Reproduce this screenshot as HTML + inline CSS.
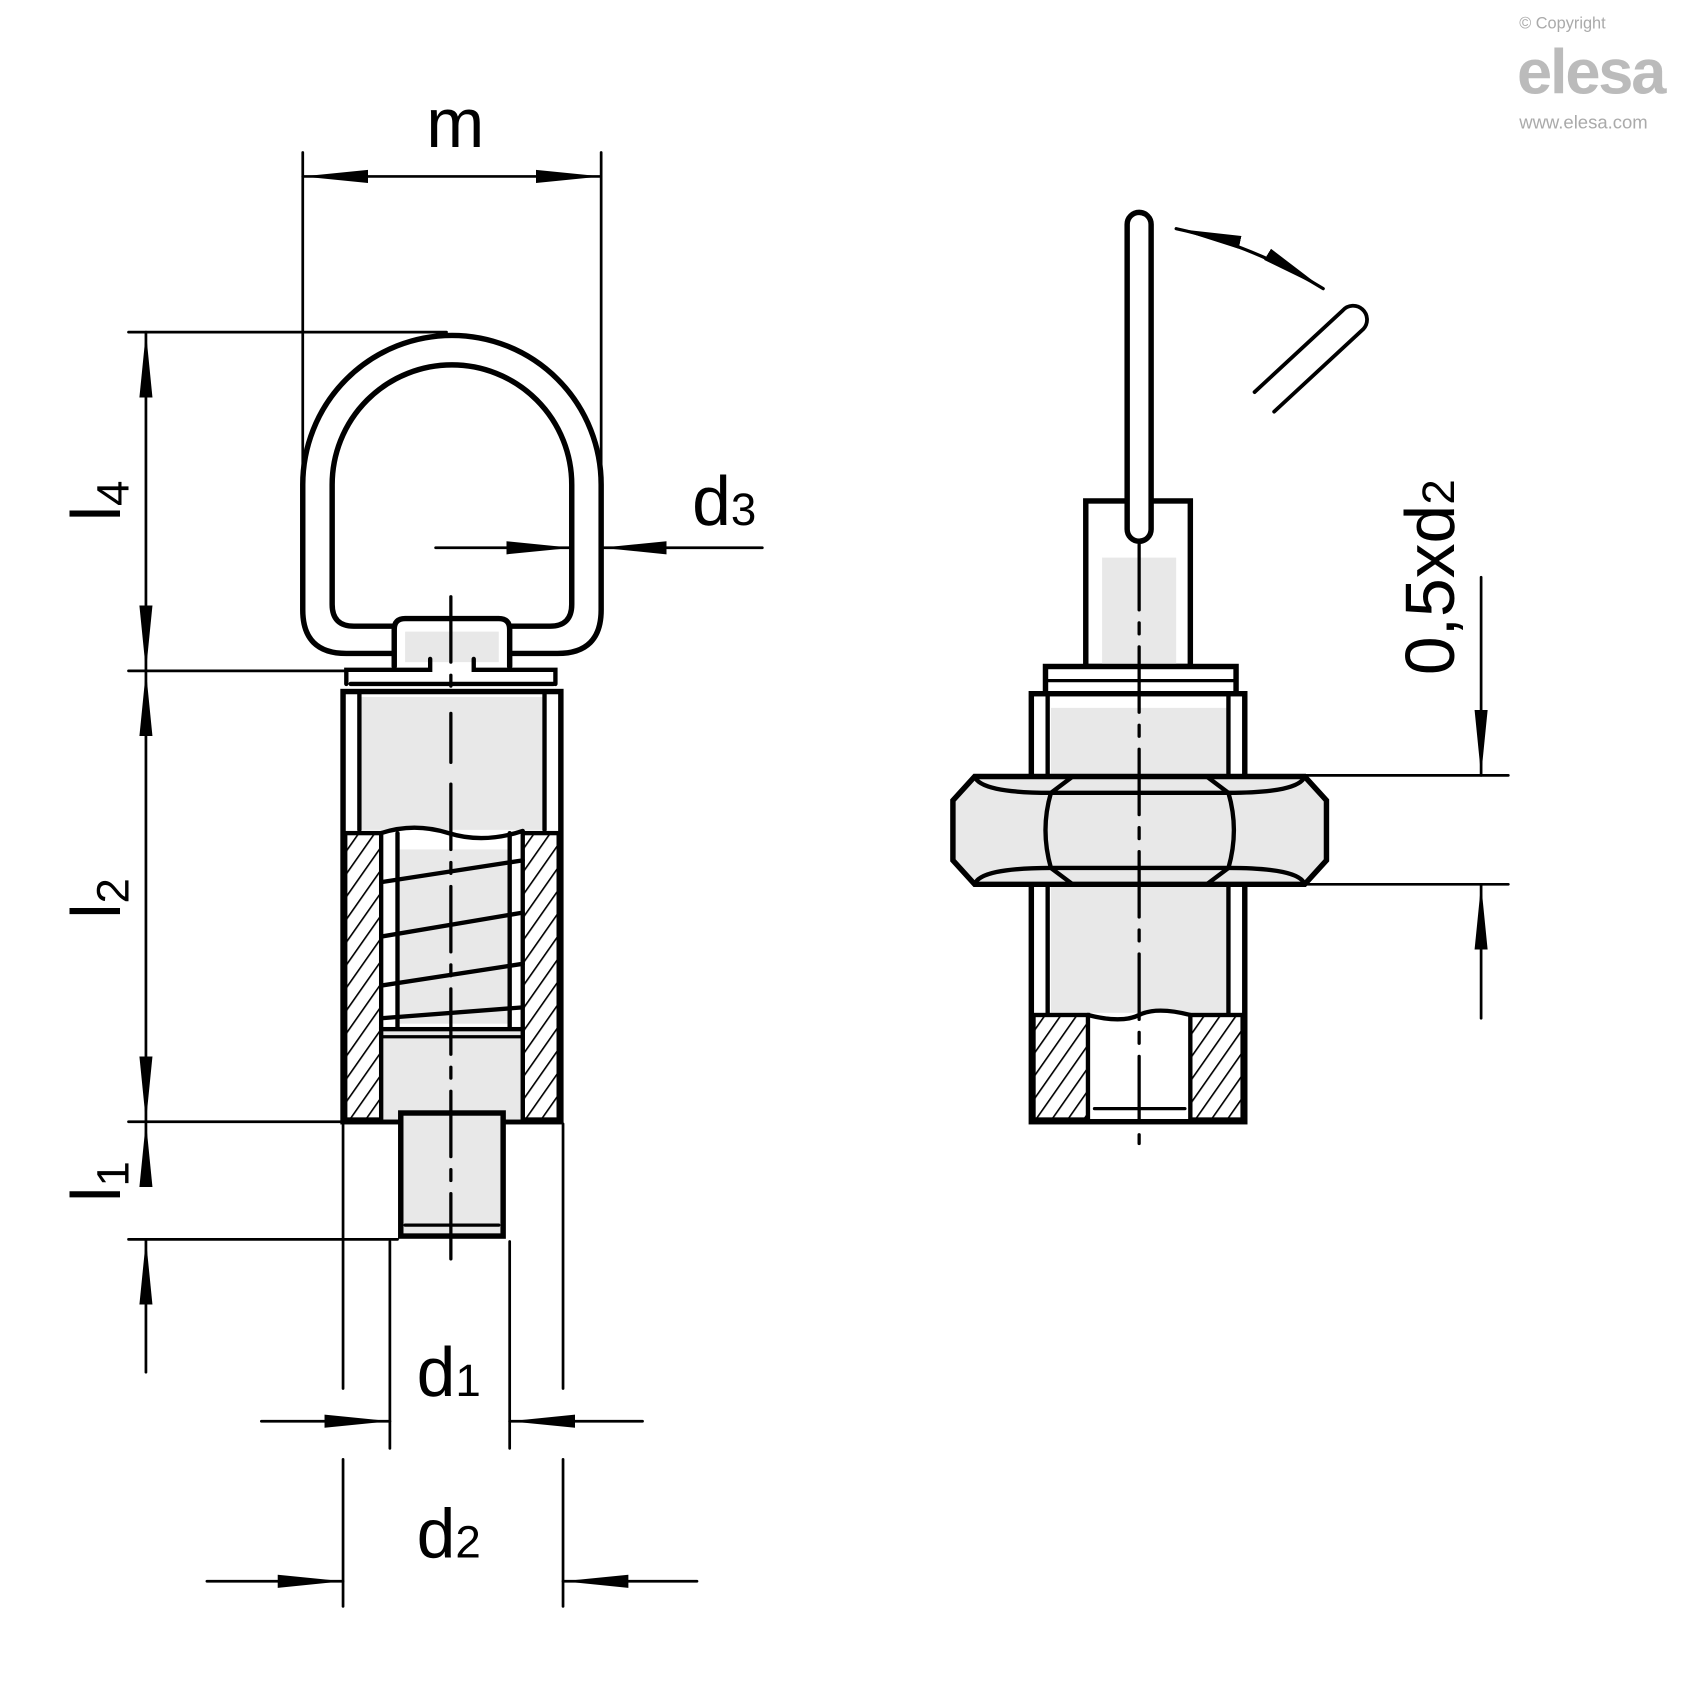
<!DOCTYPE html>
<html><head><meta charset="utf-8"><style>html,body{margin:0;padding:0;background:#fff}svg{display:block}</style></head><body>
<svg width="1700" height="1700" viewBox="0 0 1561 1561" xmlns="http://www.w3.org/2000/svg">
<defs>
<marker id="b" viewBox="0 0 60 14" refX="60" refY="7" markerWidth="60" markerHeight="14" markerUnits="userSpaceOnUse" orient="auto-start-reverse"><path d="M0,1 L60,7 L0,13 Z" fill="#000"/></marker>
<pattern id="h" width="12" height="12" patternUnits="userSpaceOnUse" patternTransform="rotate(35)"><rect width="12" height="12" fill="#fff"/><line x1="0" y1="0" x2="0" y2="12" stroke="#000" stroke-width="3"/></pattern>
</defs>
<text x="1395" y="26" font-family="Liberation Sans, sans-serif" font-size="15" fill="#aaa">© Copyright</text>
<text x="1393" y="86" font-family="Liberation Sans, sans-serif" font-size="58" font-weight="bold" fill="#bbb" letter-spacing="-2">elesa</text>
<text x="1395" y="118" font-family="Liberation Sans, sans-serif" font-size="17" fill="#aaa">www.elesa.com</text>

<g stroke="#000" fill="none" stroke-linecap="round">
<!-- ring -->
<path d="M362,600 L318,600 Q278,600 278,560 L278,445 A137,137 0 0 1 552,445 L552,560 Q552,600 512,600 L470,600" stroke-width="5"/>
<path d="M362,575 L325,575 Q305,575 305,555 L305,445 A110,110 0 0 1 525,445 L525,555 Q525,575 505,575 L470,575" stroke-width="5"/>
<!-- boss -->
<path d="M362,612 L362,578 Q362,568 372,568 L458,568 Q468,568 468,578 L468,612" fill="#fff" stroke-width="5"/>
<rect x="372" y="580" width="86" height="28" fill="#e8e8e8" stroke="none"/>
<path d="M318,628 L318,615 L395,615 L395,605 M435,605 L435,615 L510,615 L510,628" stroke-width="4"/>
<line x1="322" y1="628" x2="508" y2="628" stroke-width="4"/>
<!-- body -->
<rect x="315" y="635" width="200" height="395" fill="#fff" stroke-width="5"/>
<rect x="330" y="640" width="170" height="122" fill="#e8e8e8" stroke="none"/>
<line x1="330" y1="635" x2="330" y2="762" stroke-width="4"/>
<line x1="500" y1="635" x2="500" y2="762" stroke-width="4"/>
<rect x="317" y="765" width="33" height="263" fill="url(#h)" stroke-width="4"/>
<rect x="480" y="765" width="33" height="263" fill="url(#h)" stroke-width="4"/>
<path d="M350,765 Q380,755 412,765 T480,763" stroke-width="4"/>
<rect x="365" y="780" width="105" height="160" fill="#e8e8e8" stroke="none"/>
<line x1="365" y1="765" x2="365" y2="945" stroke-width="4"/>
<line x1="468" y1="765" x2="468" y2="945" stroke-width="4"/>
<path d="M350,810 L480,790 M350,860 L480,838 M350,905 L480,885 M350,935 L480,925" stroke-width="4"/>
<rect x="350" y="945" width="130" height="85" fill="#e8e8e8" stroke-width="4"/>
<line x1="350" y1="952" x2="480" y2="952" stroke-width="3"/>
<rect x="368" y="1022" width="94" height="113" fill="#e8e8e8" stroke-width="5"/>
<line x1="372" y1="1125" x2="458" y2="1125" stroke-width="3"/>
<path d="M414,548 L414,640 M414,655 L414,700 M414,720 L414,1160" stroke-width="3" stroke-dasharray="60 12 10 12"/>

<!-- dims left -->
<line x1="278" y1="140" x2="278" y2="430" stroke-width="2.5"/>
<line x1="552" y1="140" x2="552" y2="430" stroke-width="2.5"/>
<line x1="278" y1="162" x2="552" y2="162" stroke-width="2.5" marker-start="url(#b)" marker-end="url(#b)"/>
<line x1="118" y1="305" x2="410" y2="305" stroke-width="2.5"/>
<line x1="118" y1="616" x2="318" y2="616" stroke-width="2.5"/>
<line x1="118" y1="1030" x2="315" y2="1030" stroke-width="2.5"/>
<line x1="118" y1="1138" x2="365" y2="1138" stroke-width="2.5"/>
<line x1="134" y1="305" x2="134" y2="616" stroke-width="2.5" marker-start="url(#b)" marker-end="url(#b)"/>
<line x1="134" y1="616" x2="134" y2="1030" stroke-width="2.5" marker-start="url(#b)" marker-end="url(#b)"/>
<line x1="134" y1="1030" x2="134" y2="1078" stroke-width="2.5" marker-start="url(#b)"/>
<line x1="134" y1="1138" x2="134" y2="1260" stroke-width="2.5" marker-start="url(#b)"/>
<line x1="400" y1="503" x2="525" y2="503" stroke-width="2.5" marker-end="url(#b)"/>
<line x1="552" y1="503" x2="700" y2="503" stroke-width="2.5" marker-start="url(#b)"/>
<line x1="358" y1="1140" x2="358" y2="1330" stroke-width="2.5"/>
<line x1="468" y1="1140" x2="468" y2="1330" stroke-width="2.5"/>
<line x1="240" y1="1305" x2="358" y2="1305" stroke-width="2.5" marker-end="url(#b)"/>
<line x1="468" y1="1305" x2="590" y2="1305" stroke-width="2.5" marker-start="url(#b)"/>
<line x1="315" y1="1032" x2="315" y2="1275" stroke-width="2.5"/>
<line x1="517" y1="1032" x2="517" y2="1275" stroke-width="2.5"/>
<line x1="315" y1="1340" x2="315" y2="1475" stroke-width="2.5"/>
<line x1="517" y1="1340" x2="517" y2="1475" stroke-width="2.5"/>
<line x1="190" y1="1452" x2="315" y2="1452" stroke-width="2.5" marker-end="url(#b)"/>
<line x1="517" y1="1452" x2="640" y2="1452" stroke-width="2.5" marker-start="url(#b)"/>

<!-- RIGHT VIEW -->
<path d="M1080,210 Q1150,225 1215,265" stroke-width="3" marker-start="url(#b)" marker-end="url(#b)"/>
<path d="M1152,360 L1233,285 A12,12 0 0 1 1252,302 L1170,378" stroke-width="3.5"/>
<rect x="997" y="460" width="96" height="152" fill="#fff" stroke-width="5"/>
<rect x="1012" y="512" width="68" height="98" fill="#e8e8e8" stroke="none"/>
<rect x="1035" y="195" width="22" height="302" rx="11" fill="#fff" stroke-width="5"/>
<rect x="960" y="612" width="175" height="25" fill="#fff" stroke-width="5"/>
<line x1="962" y1="625" x2="1133" y2="625" stroke-width="3"/>
<rect x="947" y="637" width="196" height="393" fill="#fff" stroke-width="5"/>
<rect x="965" y="650" width="162" height="280" fill="#e8e8e8" stroke="none"/>
<line x1="962" y1="637" x2="962" y2="712" stroke-width="4"/>
<line x1="1128" y1="637" x2="1128" y2="712" stroke-width="4"/>
<line x1="962" y1="812" x2="962" y2="930" stroke-width="4"/>
<line x1="1128" y1="812" x2="1128" y2="930" stroke-width="4"/>
<path d="M875,735 L895,713 L1198,713 L1218,735 L1218,790 L1198,812 L895,812 L875,790 Z" fill="#e8e8e8" stroke-width="5"/>
<path d="M895,713 Q900,728 965,728 L1128,728 Q1193,728 1198,713 M895,812 Q900,797 965,797 L1128,797 Q1193,797 1198,812" stroke-width="4"/>
<path d="M965,728 L985,713 M965,797 L985,812 M1128,728 L1108,713 M1128,797 L1108,812 M965,728 Q955,762 965,797 M1128,728 Q1138,762 1128,797" stroke-width="4"/>
<rect x="949" y="932" width="50" height="96" fill="url(#h)" stroke-width="4"/>
<rect x="1093" y="932" width="48" height="96" fill="url(#h)" stroke-width="4"/>
<path d="M999,932 Q1030,940 1046,932 T1093,932" stroke-width="4"/>
<line x1="1005" y1="1018" x2="1088" y2="1018" stroke-width="3"/>
<path d="M1046,500 L1046,1050" stroke-width="3" stroke-dasharray="60 12 10 12"/>
<line x1="1190" y1="712" x2="1385" y2="712" stroke-width="2.5"/>
<line x1="1190" y1="812" x2="1385" y2="812" stroke-width="2.5"/>
<line x1="1360" y1="530" x2="1360" y2="712" stroke-width="2.5" marker-end="url(#b)"/>
<line x1="1360" y1="935" x2="1360" y2="812" stroke-width="2.5" marker-end="url(#b)"/>
</g>

<g font-family="Liberation Sans, sans-serif" fill="#000">
<text x="418" y="135" font-size="64" text-anchor="middle">m</text>
<text x="110" y="460" font-size="64" transform="rotate(-90 110 460)" text-anchor="middle">l<tspan font-size="42" dy="8">4</tspan></text>
<text x="110" y="825" font-size="64" transform="rotate(-90 110 825)" text-anchor="middle">l<tspan font-size="42" dy="8">2</tspan></text>
<text x="110" y="1085" font-size="64" transform="rotate(-90 110 1085)" text-anchor="middle">l<tspan font-size="42" dy="8">1</tspan></text>
<text x="665" y="482" font-size="64" text-anchor="middle">d<tspan font-size="42">3</tspan></text>
<text x="412" y="1282" font-size="64" text-anchor="middle">d<tspan font-size="42">1</tspan></text>
<text x="412" y="1430" font-size="64" text-anchor="middle">d<tspan font-size="42">2</tspan></text>
<text x="1335" y="530" font-size="64" transform="rotate(-90 1335 530)" text-anchor="middle">0,5xd<tspan font-size="42">2</tspan></text>
</g>
</svg>
</body></html>
